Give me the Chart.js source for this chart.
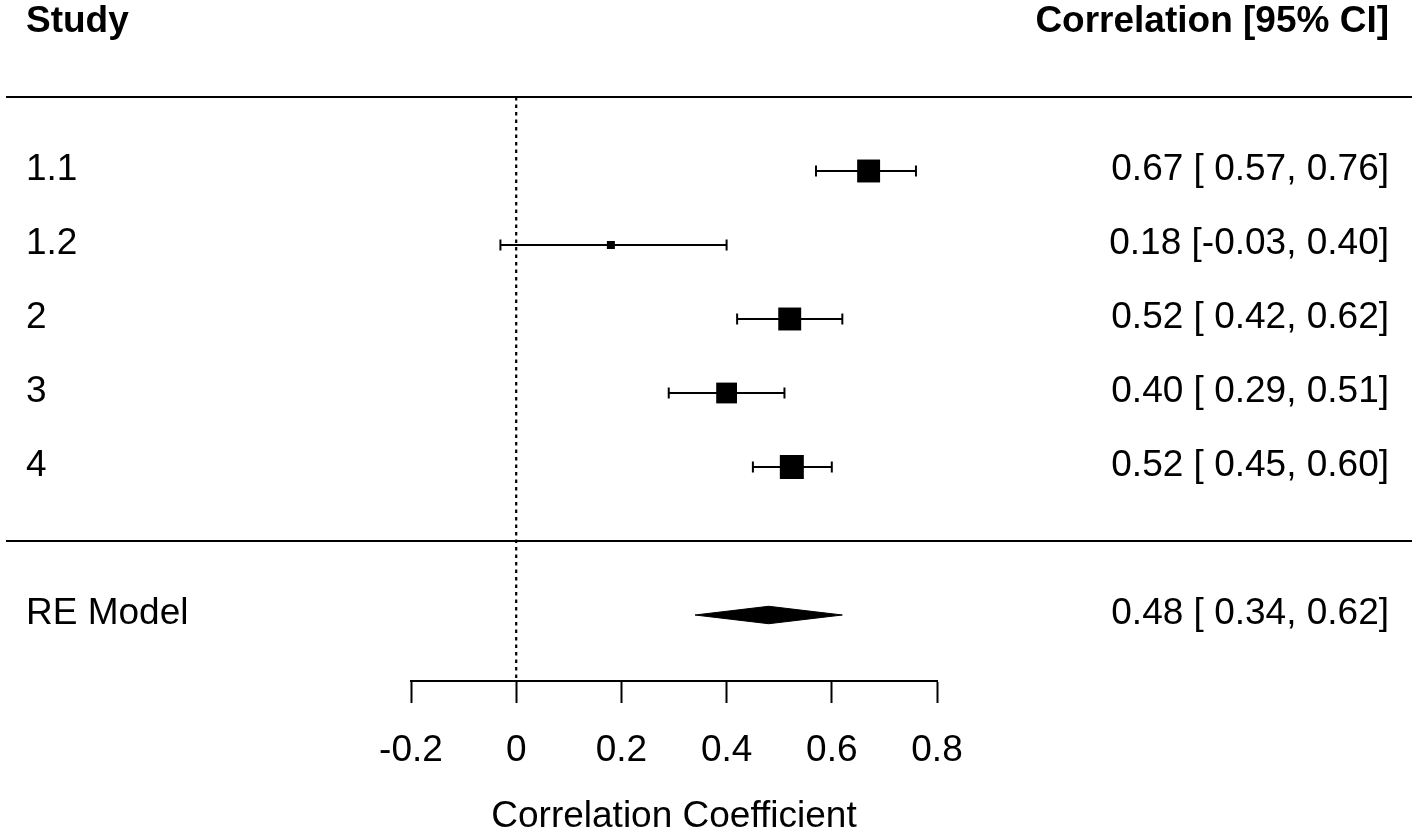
<!DOCTYPE html>
<html>
<head>
<meta charset="utf-8">
<title>Forest plot</title>
<script src="https://cdn.jsdelivr.net/npm/chart.js@4.4.1/dist/chart.umd.min.js"></script>
<style>
  html, body { margin: 0; padding: 0; background: #fff; }
  #wrap { width: 1418px; height: 837px; position: relative; }
</style>
</head>
<body>
<div id="wrap"><canvas id="forest"></canvas></div>
<script>
// study level data
const studies = ['1.1', '1.2', '2', '3', '4'];
const estimates = [0.67, 0.18, 0.52, 0.40, 0.524];
const ciLower = [0.57, -0.03, 0.42, 0.29, 0.45];
const ciUpper = [0.76, 0.40, 0.62, 0.51, 0.60];
const weights = [21.5, 14.5, 21.5, 20.5, 22.0];

// pooled estimate
const summaryLabel = 'RE Model';
const summaryEstimate = 0.48;
const summaryLower = 0.34;
const summaryUpper = 0.62;
const nullValue = 0;

const tickValues = [-0.2, 0, 0.2, 0.4, 0.6, 0.8];
const tickLabels = ['-0.2', '0', '0.2', '0.4', '0.6', '0.8'];

const headerLeft = 'Study';
const headerRight = 'Correlation [95% CI]';
const axisTitle = 'Correlation Coefficient';

// layout
const FONT = '"Liberation Sans", Arial, Helvetica, sans-serif';
const FONT_SIZE = 37;
const ROW_PX = 74;
const AXIS_HEIGHT = 156;
const Y_MIN = -1 - 66 / ROW_PX;
const Y_MAX = Y_MIN + (837 - AXIS_HEIGHT) / ROW_PX;
const LINE_LEFT = 6;
const LINE_RIGHT = 1412;
const TEXT_LEFT = 26;
const TEXT_RIGHT = 1389;
const DIAMOND_H = 0.118;

// rows, top to bottom like metafor
const rows = studies.map((s, i) => studies.length - i);
const summaryRow = -1;
const topLineRow = studies.length + 1;
const headerRow = studies.length + 2;
const midLineRow = 0;

function fmtCol(vals) {
    const s = vals.map(v => v.toFixed(2));
    const w = Math.max(...s.map(t => t.length));
    return s.map(t => t.padStart(w, ' '));
}
const estCol = fmtCol(estimates.concat([summaryEstimate]));
const loCol = fmtCol(ciLower.concat([summaryLower]));
const hiCol = fmtCol(ciUpper.concat([summaryUpper]));
const ciText = estCol.map((e, i) => e + ' [' + loCol[i] + ', ' + hiCol[i] + ']');

// square size from weight, 0.5 .. 1.5 of base size
const wMin = Math.min(...weights);
const wMax = Math.max(...weights);
const pointR = weights.map(w => 16 * (0.5 + (w - wMin) / (wMax - wMin)) / (2 * Math.SQRT1_2));

const datasets = [];

datasets.push({
    type: 'scatter',
    label: 'estimates',
    data: estimates.map((v, i) => ({x: v, y: rows[i]})),
    pointStyle: 'rect',
    pointRadius: pointR,
    pointBackgroundColor: '#000',
    pointBorderWidth: 0,
    order: 0
});

studies.forEach((s, i) => {
    datasets.push({
        type: 'line',
        label: s,
        data: [{x: ciLower[i], y: rows[i]}, {x: ciUpper[i], y: rows[i]}],
        borderColor: '#000',
        borderWidth: 2,
        pointStyle: 'line',
        pointRotation: 90,
        pointRadius: 5.5,
        pointBorderColor: '#000',
        pointBorderWidth: 2,
        order: 1
    });
});

datasets.push({
    type: 'line',
    label: summaryLabel,
    data: [
        {x: summaryLower, y: summaryRow},
        {x: summaryEstimate, y: summaryRow + DIAMOND_H},
        {x: summaryUpper, y: summaryRow},
        {x: summaryEstimate, y: summaryRow - DIAMOND_H},
        {x: summaryLower, y: summaryRow}
    ],
    borderColor: '#000',
    borderWidth: 1,
    backgroundColor: '#000',
    fill: 'shape',
    pointRadius: 0,
    order: 0
});

datasets.push({
    type: 'line',
    label: 'null',
    data: [{x: nullValue, y: topLineRow}, {x: nullValue, y: Y_MIN}],
    borderColor: '#000',
    borderWidth: 2.2,
    borderDash: [3.5, 4],
    pointRadius: 0,
    order: 2
});

const forestText = {
    id: 'forestText',
    afterDraw(chart) {
        const ctx = chart.ctx;
        const y = chart.scales.y;
        ctx.save();
        ctx.strokeStyle = '#000';
        ctx.lineWidth = 2;
        [topLineRow, midLineRow].forEach(r => {
            const py = Math.round(y.getPixelForValue(r));
            ctx.beginPath();
            ctx.moveTo(LINE_LEFT, py);
            ctx.lineTo(LINE_RIGHT, py);
            ctx.stroke();
        });

        ctx.fillStyle = '#000';
        ctx.textBaseline = 'middle';
        const hy = y.getPixelForValue(headerRow) - 1;
        ctx.font = 'bold ' + FONT_SIZE + 'px ' + FONT;
        ctx.textAlign = 'left';
        ctx.fillText(headerLeft, TEXT_LEFT, hy);
        ctx.textAlign = 'right';
        ctx.fillText(headerRight, TEXT_RIGHT, hy);

        ctx.font = FONT_SIZE + 'px ' + FONT;
        const labels = studies.concat([summaryLabel]);
        const labelRows = rows.concat([summaryRow]);
        labels.forEach((lab, i) => {
            const py = y.getPixelForValue(labelRows[i]) - 1;
            ctx.textAlign = 'left';
            ctx.fillText(lab, TEXT_LEFT, py);
            ctx.textAlign = 'right';
            ctx.fillText(ciText[i], TEXT_RIGHT, py);
        });
        ctx.restore();
    }
};

const ctx = document.getElementById('forest').getContext('2d');
const chart = new Chart(ctx, {
    type: 'line',
    data: { datasets: datasets },
    options: {
        responsive: true,
        maintainAspectRatio: false,
        animation: false,
        events: [],
        layout: {
            autoPadding: false,
            padding: { left: 411, right: 481, top: 0, bottom: 0 }
        },
        plugins: {
            legend: { display: false },
            tooltip: { enabled: false }
        },
        scales: {
            x: {
                type: 'linear',
                min: -0.2,
                max: 0.8,
                afterBuildTicks: s => { s.ticks = tickValues.map(v => ({value: v})); },
                afterFit: s => { s.height = AXIS_HEIGHT; },
                ticks: {
                    callback: (v, i) => tickLabels[i],
                    font: { family: FONT, size: FONT_SIZE },
                    color: '#000',
                    padding: 26,
                    maxRotation: 0,
                    autoSkip: false
                },
                grid: {
                    drawOnChartArea: false,
                    drawTicks: true,
                    tickLength: 22,
                    tickColor: '#000',
                    tickWidth: 2
                },
                border: { display: true, color: '#000', width: 2 },
                title: {
                    display: true,
                    text: axisTitle,
                    color: '#000',
                    font: { family: FONT, size: FONT_SIZE, lineHeight: 1 },
                    padding: { top: 0, bottom: 2 }
                }
            },
            y: {
                type: 'linear',
                display: false,
                min: Y_MIN,
                max: Y_MAX
            }
        }
    },
    plugins: [forestText]
});
</script>
</body>
</html>
